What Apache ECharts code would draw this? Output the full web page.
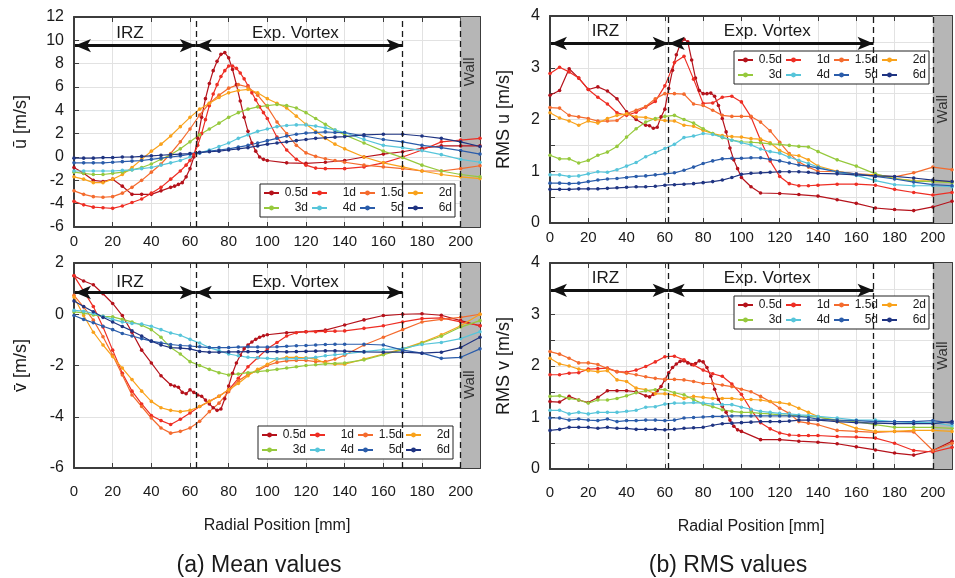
<!DOCTYPE html>
<html><head><meta charset="utf-8">
<script src="https://cdn.jsdelivr.net/npm/echarts/dist/echarts.min.js"></script>
<style>html,body{margin:0;padding:0;background:#fff}#c{width:955px;height:578px}</style>
</head><body><div id="c"></div><script>
// ---------- series names / colours ----------
const NAMES = ['0.5d','1d','1.5d','2d','3d','4d','5d','6d'];
const COLORS = ['#B5121B','#EE2E24','#F46B2E','#F9A21B','#96C93D','#57C5DA','#2A5CAA','#1F3482'];

// ---------- radial positions [mm] ----------
const R = [0,5,10,15,20,25,30,35,40,45,50,55,60,65,70,75,80,85,90,95,100,105,110,115,120,125,130,135,140,150,160,170,180,190,200,210];
const XD = [0,5,10,15,20,25,30,35,40,45,50,52,54,56,58,60,62,64,66,68,70,72,74,76,78,80,82,84,86,88,90,92,94,96,98,100,110,120,130,140,150,160,170,180,190,200,210];
const XDB = [0,5,10,15,20,25,30,35,40,45,50,52,54,56,58,60,62,64,66,68,70,72,74,76,78,80,82,84,86,88,90,92,94,96,98,100,105,110,120,130,140,150,160,170,180,190,200,210];
const XA1 = [0,5,10,15,20,25,30,35,40,45,50,55,58,60,62,64,66,68,70,72,74,76,78,80,82,84,86,88,90,92,94,96,98,100,105,110,115,120,125,130,140,150,160,170,180,190,200,210];

// ---------- (a) mean u ----------
const u05 = [-0.9,-1.4,-2.0,-2.1,-1.9,-2.5,-3.2,-3.2,-3.2,-2.9,-2.6,-2.5,-2.35,-2.2,-1.7,-1.0,0.0,1.6,3.4,5.0,6.3,7.4,8.2,8.8,8.95,8.5,7.5,6.2,4.8,3.4,2.2,1.2,0.5,0.0,-0.2,-0.3,-0.5,-0.55,-0.45,-0.3,0.0,0.25,0.45,0.75,0.95,0.95,0.95];
const u1 = [-3.8,-4.1,-4.3,-4.35,-4.4,-4.2,-3.9,-3.6,-3.1,-2.6,-1.9,-1.2,-0.7,-0.3,0.2,1.0,2.0,3.2,4.4,5.4,6.2,6.9,7.4,7.8,7.8,7.6,7.2,6.7,6.1,5.5,4.9,4.3,3.8,3.3,1.7,0.6,-0.2,-0.7,-0.95,-1.0,-1.0,-0.85,-0.5,0.0,0.6,1.3,1.45,1.6];
const u15 = [-2.9,-3.2,-3.4,-3.45,-3.4,-3.1,-2.6,-2.0,-1.3,-0.6,0.3,1.3,2.4,3.6,4.6,5.3,5.9,6.2,6.0,5.3,4.3,3.0,2.0,1.0,0.35,0.05,-0.15,-0.3,-0.45,-0.7,-0.85,-1.0,-1.2,-1.2,-1.0,-0.75];
const u2 = [-1.7,-1.9,-2.2,-2.2,-1.9,-1.5,-0.9,-0.2,0.5,1.1,1.8,2.6,3.4,4.1,4.6,5.1,5.5,5.7,5.8,5.5,5.0,4.6,4.2,3.5,2.8,2.2,1.6,1.1,0.7,0.0,-0.5,-0.85,-1.2,-1.5,-1.7,-1.85];
const u3 = [-1.3,-1.4,-1.5,-1.5,-1.4,-1.3,-1.1,-0.9,-0.6,-0.2,0.2,0.7,1.3,1.9,2.4,2.9,3.4,3.8,4.1,4.3,4.4,4.5,4.4,4.2,3.8,3.3,2.8,2.3,1.9,1.2,0.5,-0.05,-0.7,-1.2,-1.5,-1.7];
const u4 = [-1.2,-1.2,-1.2,-1.2,-1.2,-1.15,-1.1,-1.0,-0.9,-0.7,-0.5,-0.3,0.0,0.35,0.6,0.9,1.2,1.6,1.9,2.2,2.4,2.6,2.7,2.75,2.75,2.65,2.5,2.3,2.1,1.5,1.0,0.8,0.55,0.2,-0.2,-0.45];
const u5 = [-0.5,-0.5,-0.5,-0.5,-0.45,-0.4,-0.35,-0.3,-0.2,-0.1,0.0,0.1,0.25,0.35,0.5,0.6,0.7,0.85,1.0,1.2,1.4,1.6,1.8,1.95,2.05,2.1,2.15,2.1,2.1,1.8,1.5,1.3,1.0,0.8,0.55,0.25];
const u6 = [-0.1,-0.1,-0.1,-0.05,-0.05,0.0,0.0,0.05,0.1,0.15,0.2,0.25,0.3,0.4,0.45,0.5,0.6,0.7,0.8,0.95,1.1,1.2,1.3,1.4,1.5,1.6,1.65,1.7,1.75,1.9,1.95,1.95,1.8,1.6,1.3,0.9];

// ---------- (b) RMS u ----------
const ru05 = [2.47,2.56,2.98,2.8,2.58,2.63,2.55,2.4,2.15,2.0,1.89,1.88,1.83,1.85,2.05,2.2,2.6,2.95,3.25,3.45,3.55,3.5,3.15,2.8,2.56,2.5,2.5,2.51,2.45,2.27,2.02,1.76,1.45,1.22,1.05,0.88,0.7,0.58,0.57,0.55,0.52,0.45,0.38,0.29,0.26,0.24,0.31,0.42];
const ru1 = [2.89,3.01,2.92,2.8,2.58,2.43,2.3,2.13,2.08,2.14,2.24,2.35,2.65,3.1,3.22,2.78,2.31,2.32,2.43,2.45,2.34,2.05,1.6,1.2,0.9,0.76,0.72,0.72,0.73,0.75,0.75,0.73,0.65,0.59,0.54,0.59];
const ru15 = [2.23,2.22,2.08,2.05,2.02,1.97,1.97,1.98,2.11,2.18,2.25,2.4,2.5,2.5,2.49,2.3,2.27,2.18,2.08,2.06,2.06,2.06,1.95,1.78,1.56,1.34,1.18,1.08,1.0,0.99,0.95,0.93,0.89,0.97,1.08,1.03];
const ru2 = [2.13,2.03,1.97,1.89,1.97,1.93,2.02,2.08,2.11,2.05,2.04,2.0,1.98,1.97,1.89,1.87,1.79,1.73,1.69,1.67,1.66,1.63,1.62,1.55,1.4,1.32,1.3,1.22,1.1,1.0,0.94,0.93,0.86,0.82,0.81,0.8];
const ru3 = [1.31,1.24,1.24,1.16,1.21,1.31,1.37,1.48,1.66,1.82,1.95,2.02,2.06,2.08,2.0,1.93,1.82,1.73,1.65,1.6,1.57,1.56,1.55,1.53,1.52,1.5,1.48,1.47,1.38,1.22,1.1,0.95,0.86,0.81,0.8,0.78];
const ru4 = [0.93,0.93,0.9,0.91,0.95,0.99,0.98,1.03,1.1,1.17,1.28,1.36,1.44,1.52,1.65,1.68,1.73,1.71,1.66,1.6,1.55,1.51,1.43,1.38,1.35,1.27,1.21,1.15,1.08,0.98,0.92,0.82,0.74,0.72,0.72,0.7];
const ru5 = [0.77,0.77,0.76,0.77,0.8,0.83,0.85,0.86,0.88,0.9,0.91,0.93,0.95,0.97,1.02,1.08,1.15,1.2,1.24,1.25,1.25,1.26,1.26,1.23,1.2,1.16,1.12,1.1,1.06,0.99,0.95,0.9,0.85,0.79,0.74,0.72];
const ru6 = [0.65,0.65,0.65,0.66,0.66,0.66,0.67,0.68,0.69,0.7,0.7,0.71,0.73,0.74,0.75,0.76,0.78,0.8,0.83,0.88,0.94,0.96,0.97,0.98,0.99,0.99,0.99,0.98,0.96,0.95,0.93,0.91,0.9,0.87,0.83,0.8];

// ---------- (a) mean v ----------
const v05 = [1.5,1.3,1.15,0.8,0.42,-0.05,-0.7,-1.4,-1.9,-2.4,-2.75,-2.8,-2.85,-3.05,-3.1,-2.95,-3.05,-3.15,-3.2,-3.35,-3.5,-3.65,-3.75,-3.7,-3.3,-2.8,-2.3,-1.9,-1.6,-1.35,-1.2,-1.08,-0.98,-0.9,-0.84,-0.8,-0.72,-0.68,-0.62,-0.42,-0.22,-0.05,0.0,0.02,-0.04,-0.25,-0.45];
const v1 = [1.5,0.9,0.3,-0.5,-1.4,-2.3,-3.0,-3.5,-3.95,-4.15,-4.3,-4.1,-3.85,-3.6,-3.4,-3.2,-2.95,-2.5,-2.05,-1.7,-1.35,-1.1,-0.85,-0.72,-0.68,-0.68,-0.67,-0.66,-0.65,-0.55,-0.45,-0.3,-0.17,-0.14,-0.3,-0.45];
const v15 = [0.74,0.28,-0.23,-0.88,-1.6,-2.37,-3.15,-3.6,-4.05,-4.44,-4.64,-4.57,-4.44,-4.18,-3.8,-3.47,-3.02,-2.6,-2.35,-2.2,-2.0,-1.88,-1.82,-1.8,-1.8,-1.85,-1.85,-1.75,-1.6,-1.2,-0.9,-0.6,-0.3,-0.2,-0.12,0.0];
const v2 = [0.67,-0.05,-0.7,-1.2,-1.65,-2.1,-2.55,-3.0,-3.4,-3.65,-3.75,-3.8,-3.75,-3.6,-3.4,-3.2,-2.95,-2.7,-2.4,-2.15,-1.95,-1.75,-1.68,-1.68,-1.7,-1.75,-1.9,-1.95,-1.95,-1.75,-1.55,-1.35,-1.1,-0.8,-0.45,0.0];
const v3 = [0.09,0.05,-0.03,-0.08,-0.1,-0.2,-0.3,-0.43,-0.6,-0.9,-1.3,-1.55,-1.85,-2.0,-2.15,-2.28,-2.37,-2.33,-2.28,-2.24,-2.2,-2.15,-2.1,-2.05,-2.0,-1.97,-1.94,-1.92,-1.9,-1.78,-1.58,-1.38,-1.12,-0.86,-0.5,-0.25];
const v4 = [0.15,0.12,0.03,-0.08,-0.2,-0.3,-0.36,-0.38,-0.47,-0.6,-0.73,-0.82,-0.98,-1.12,-1.3,-1.42,-1.55,-1.62,-1.68,-1.7,-1.72,-1.74,-1.74,-1.73,-1.72,-1.68,-1.62,-1.58,-1.55,-1.46,-1.38,-1.33,-1.18,-1.1,-0.95,-0.68];
const v5 = [-0.05,-0.2,-0.33,-0.47,-0.6,-0.75,-0.85,-0.95,-1.05,-1.12,-1.18,-1.22,-1.24,-1.27,-1.3,-1.3,-1.3,-1.28,-1.27,-1.28,-1.28,-1.27,-1.25,-1.23,-1.22,-1.2,-1.18,-1.17,-1.17,-1.17,-1.2,-1.4,-1.52,-1.72,-1.68,-1.35];
const v6 = [0.52,0.3,0.1,-0.12,-0.3,-0.48,-0.65,-0.85,-1.05,-1.2,-1.3,-1.32,-1.35,-1.45,-1.48,-1.48,-1.47,-1.47,-1.46,-1.46,-1.46,-1.46,-1.47,-1.46,-1.45,-1.44,-1.43,-1.43,-1.44,-1.47,-1.48,-1.48,-1.52,-1.48,-1.3,-0.9];

// ---------- (b) RMS v ----------
const rv05 = [1.31,1.3,1.41,1.34,1.29,1.39,1.52,1.52,1.52,1.5,1.42,1.4,1.45,1.52,1.6,1.73,1.87,1.97,2.04,2.09,2.1,2.06,2.03,2.05,2.1,2.08,1.97,1.8,1.55,1.35,1.22,1.1,0.95,0.83,0.76,0.73,0.57,0.57,0.54,0.52,0.49,0.43,0.37,0.31,0.27,0.36,0.54];
const rv1 = [1.83,1.83,1.86,1.87,1.94,1.95,1.96,1.89,1.88,1.92,1.99,2.08,2.18,2.19,2.12,2.02,1.92,1.85,1.8,1.65,1.45,1.15,0.9,0.78,0.7,0.66,0.65,0.65,0.65,0.63,0.62,0.6,0.5,0.36,0.33,0.42];
const rv15 = [2.28,2.23,2.15,2.06,2.06,2.03,1.95,1.89,1.86,1.83,1.79,1.76,1.74,1.74,1.73,1.7,1.66,1.66,1.63,1.6,1.55,1.5,1.41,1.31,1.18,1.08,0.92,0.89,0.86,0.75,0.73,0.71,0.73,0.72,0.36,0.5];
const rv2 = [2.15,2.04,2.0,1.94,1.91,1.89,1.91,1.73,1.7,1.57,1.54,1.46,1.46,1.44,1.37,1.41,1.39,1.37,1.37,1.37,1.35,1.35,1.34,1.31,1.29,1.26,1.18,1.1,1.02,0.92,0.79,0.73,0.73,0.75,0.75,0.73];
const rv3 = [1.41,1.42,1.37,1.34,1.28,1.34,1.34,1.37,1.42,1.48,1.52,1.54,1.54,1.48,1.44,1.35,1.26,1.21,1.15,1.12,1.1,1.1,1.08,1.07,1.05,1.04,1.03,1.02,1.01,0.95,0.92,0.86,0.81,0.81,0.81,0.79];
const rv4 = [1.14,1.14,1.07,1.1,1.07,1.1,1.1,1.1,1.12,1.14,1.2,1.21,1.26,1.28,1.28,1.29,1.28,1.26,1.25,1.25,1.2,1.16,1.12,1.1,1.08,1.07,1.05,1.04,1.02,0.99,0.95,0.95,0.92,0.9,0.9,0.84];
const rv5 = [0.99,0.99,0.95,0.97,0.95,0.94,0.97,0.92,0.94,0.94,0.95,0.95,0.94,0.95,0.99,1.0,1.01,1.02,1.02,1.03,1.03,1.03,1.03,1.03,1.03,1.03,1.02,1.0,0.97,0.95,0.94,0.92,0.92,0.92,0.94,0.89];
const rv6 = [0.75,0.77,0.81,0.81,0.81,0.79,0.81,0.79,0.79,0.77,0.77,0.77,0.76,0.77,0.79,0.8,0.81,0.85,0.88,0.89,0.9,0.91,0.92,0.92,0.92,0.93,0.95,0.95,0.95,0.92,0.9,0.89,0.88,0.88,0.88,0.92];

// ---------- axis ticks / annotations ----------
const X_TICKS = [0,200,20];               // min, last label, interval
const Y_MEAN_U = [-6,12,2], Y_MEAN_V = [-6,2,2], Y_RMS = [0,4,0.5];
const DASH_MEAN = [63,170,200], DASH_RMS = [62,169,200];
const WALL = [200,210];

const FRAME = '#3c3c3c', GRID = '#e2e2e2';
const FONT = "'Liberation Sans', Arial, sans-serif";

const panels = [
  {grid:{left:74,top:17,width:406,height:210}, xs:[XD,XA1,R,R,R,R,R,R], ys:[u05,u1,u15,u2,u3,u4,u5,u6],
   yr:Y_MEAN_U, yname:'\u016B [m/s]', dash:DASH_MEAN, arrowY:9.55, textY:10.6, wallY:7.3,
   legend:{left:260,top:184}, bottom:false},
  {grid:{left:550,top:16,width:405,height:207}, xs:[XDB,R,R,R,R,R,R,R], ys:[ru05,ru1,ru15,ru2,ru3,ru4,ru5,ru6],
   yr:Y_RMS, yname:'RMS u [m/s]', dash:DASH_RMS, arrowY:3.47, textY:3.7, wallY:2.2,
   legend:{left:734,top:51}, bottom:false},
  {grid:{left:74,top:263,width:406,height:205}, xs:[XD,R,R,R,R,R,R,R], ys:[v05,v1,v15,v2,v3,v4,v5,v6],
   yr:Y_MEAN_V, yname:'v\u0304 [m/s]', dash:DASH_MEAN, arrowY:0.85, textY:1.26, wallY:-2.75,
   legend:{left:258,top:426}, bottom:true},
  {grid:{left:550,top:263,width:405,height:206}, xs:[XD,R,R,R,R,R,R,R], ys:[rv05,rv1,rv15,rv2,rv3,rv4,rv5,rv6],
   yr:Y_RMS, yname:'RMS v [m/s]', dash:DASH_RMS, arrowY:3.47, textY:3.7, wallY:2.2,
   legend:{left:734,top:296}, bottom:true}
];

const grid=[], xAxis=[], yAxis=[], series=[], legend=[];
panels.forEach((p,i)=>{
  grid.push(Object.assign({containLabel:false}, p.grid));
  const line = {show:true, onZero:false, lineStyle:{color:FRAME, width:2}};
  const tick = {show:true, inside:true, length:5, lineStyle:{color:FRAME, width:1}};
  xAxis.push({gridIndex:i, type:'value', min:X_TICKS[0], max:WALL[1], interval:X_TICKS[2], position:'bottom',
    axisLine:line, axisTick:tick, splitLine:{show:true, lineStyle:{color:GRID, width:1}},
    axisLabel:{fontFamily:FONT, fontSize:15, color:'#1a1a1a', margin:p.bottom?16:7,
      formatter:v=> v>X_TICKS[1] ? '' : String(v)},
    name:p.bottom?'Radial Position [mm]':'', nameLocation:'middle', nameGap:50,
    nameTextStyle:{fontFamily:FONT, fontSize:16, color:'#1a1a1a'}});
  xAxis.push({gridIndex:i, type:'value', min:X_TICKS[0], max:WALL[1], interval:X_TICKS[2], position:'top',
    axisLine:line, axisTick:tick, axisLabel:{show:false}, splitLine:{show:false}});
  yAxis.push({gridIndex:i, type:'value', min:p.yr[0], max:p.yr[1], interval:p.yr[2], position:'left',
    axisLine:line, axisTick:tick, splitLine:{show:true, lineStyle:{color:GRID, width:1}},
    axisLabel:{fontFamily:FONT, fontSize:16, color:'#1a1a1a', margin:10,
      formatter:v=> Number.isInteger(v) ? String(v) : ''},
    name:p.yname, nameLocation:'middle', nameGap:i%2? 37: 44, nameRotate:90,
    nameTextStyle:{fontFamily:FONT, fontSize:18, color:'#1a1a1a'}});
  yAxis.push({gridIndex:i, type:'value', min:p.yr[0], max:p.yr[1], interval:p.yr[2], position:'right',
    axisLine:line, axisTick:tick, axisLabel:{show:false}, splitLine:{show:false}});

  const xi = 2*i, yi = 2*i;
  // wall shading
  series.push({type:'line', name:'wall'+i, xAxisIndex:xi, yAxisIndex:yi, data:[], silent:true, z:1,
    markArea:{silent:true, itemStyle:{color:'#b6b6b6'}, data:[[{xAxis:WALL[0]},{xAxis:WALL[1]}]]}});
  // data
  NAMES.forEach((n,k)=>{
    series.push({type:'line', name:n, xAxisIndex:xi, yAxisIndex:yi,
      data:p.xs[k].map((x,j)=>[x,p.ys[k][j]]),
      color:COLORS[k], lineStyle:{width:1.2, color:COLORS[k]}, itemStyle:{color:COLORS[k]},
      symbol:'circle', symbolSize:3.6, showSymbol:true, showAllSymbol:true, z:3, animation:false});
  });
  // dashed region lines + texts
  series.push({type:'line', name:'deco'+i, xAxisIndex:xi, yAxisIndex:yi, data:[], silent:true, z:6,
    markLine:{silent:true, symbol:'none', label:{show:false}, animation:false,
      lineStyle:{type:[6,4], color:'#1a1a1a', width:1.3},
      data:p.dash.map(d=>({xAxis:d}))},
    markPoint:{silent:true, symbol:'rect', symbolSize:0, animation:false,
      label:{show:true, position:'inside', color:'#1a1a1a', fontFamily:FONT, fontSize:17, formatter:'{b}'},
      data:[{name:'IRZ', coord:[29,p.textY]},
            {name:'Exp. Vortex', coord:[(p.dash[0]+p.dash[1])/2 - 2, p.textY]},
            {name:'Wall', coord:[(WALL[0]+WALL[1])/2, p.wallY], label:{rotate:90, fontSize:15, color:'#333'}}]}});
  // double arrows
  series.push({type:'line', name:'arr'+i, xAxisIndex:xi, yAxisIndex:yi, data:[], silent:true, z:6,
    markLine:{silent:true, symbol:['arrow','arrow'], symbolSize:[10,16], label:{show:false}, animation:false,
      lineStyle:{type:'solid', color:'#111', width:2.8},
      data:[[{coord:[0.5,p.arrowY]},{coord:[p.dash[0],p.arrowY]}],
            [{coord:[p.dash[0],p.arrowY]},{coord:[p.dash[1],p.arrowY]}]]}});

  legend.push({data:NAMES, left:p.legend.left, top:p.legend.top, orient:'horizontal', width:192,
    itemWidth:15, itemHeight:6, itemGap:3, padding:[3,3],
    backgroundColor:'#fff', borderColor:'#222', borderWidth:1, selectedMode:false,
    formatter: n => '{a|' + n + '}',
    textStyle:{fontFamily:FONT, fontSize:12, color:'#1a1a1a',
      rich:{a:{width:24, align:'right', fontFamily:FONT, fontSize:12, color:'#1a1a1a', lineHeight:14}}}});
});

const chart = echarts.init(document.getElementById('c'), null, {renderer:'canvas'});
chart.setOption({
  animation:false, backgroundColor:'#fff',
  grid, xAxis, yAxis, series, legend,
  graphic:[
    {type:'text', x:259, y:566, style:{text:'(a) Mean values', font:"23px 'Liberation Sans', Arial, sans-serif", fill:'#1a1a1a', align:'center', verticalAlign:'middle'}},
    {type:'text', x:728, y:566, style:{text:'(b) RMS values', font:"23px 'Liberation Sans', Arial, sans-serif", fill:'#1a1a1a', align:'center', verticalAlign:'middle'}}
  ]
});
</script></body></html>
